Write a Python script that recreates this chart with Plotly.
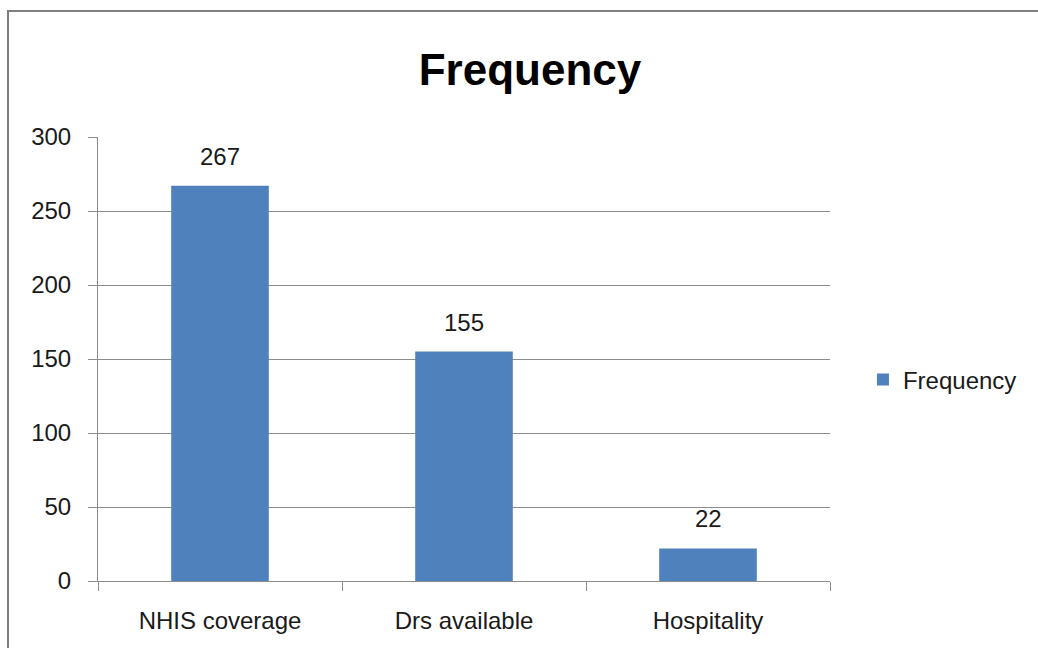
import plotly.graph_objects as go

categories = ["NHIS coverage", "Drs available", "Hospitality"]
values = [267, 155, 22]
series_name = "Frequency"
y_ticks = [0, 50, 100, 150, 200, 250, 300]

FONT = "Liberation Sans, Arial, sans-serif"
BAR = "#4F81BD"
GRID = "#8C8C8C"
TXT = "#1a1a1a"
FS = 24

fig = go.Figure()
fig.add_trace(go.Bar(
    x=categories, y=values, name=series_name,
    marker=dict(color=BAR, line=dict(width=0)),
    showlegend=True,
))
for c, v in zip(categories, values):
    fig.add_annotation(x=c, y=v, text=str(v), showarrow=False,
                       yanchor="bottom", yshift=14,
                       font=dict(size=FS, color=TXT, family=FONT))

fig.update_layout(
    width=1038, height=648,
    margin=dict(l=98, r=208, t=137, b=67),
    paper_bgcolor="white", plot_bgcolor="white",
    bargap=0.6,
    title=dict(text="<b>Frequency</b>", x=530/1038, xanchor="center", xref="container",
               y=1 - 70/648, yanchor="middle", yref="container",
               font=dict(size=44, color="black", family=FONT)),
    legend=dict(x=1.045, xanchor="left", y=(581 - 380) / 444, yanchor="middle",
                font=dict(size=FS, color=TXT, family=FONT),
                itemwidth=30, bgcolor="rgba(0,0,0,0)"),
    font=dict(family=FONT, color=TXT),
)
fig.update_yaxes(range=[0, 300], tickvals=y_ticks, showgrid=True, gridcolor=GRID, gridwidth=1,
                 showline=True, linecolor=GRID, linewidth=1, ticks="outside", ticklen=9,
                 tickcolor=GRID, tickfont=dict(size=FS, color=TXT, family=FONT),
                 zeroline=False, ticklabelstandoff=12)
fig.update_xaxes(showline=True, linecolor=GRID, linewidth=1, ticks="outside", ticklen=9,
                 tickcolor=GRID, tickson="boundaries", ticklabelstandoff=18,
                 tickfont=dict(size=FS, color=TXT, family=FONT), showgrid=False)

fig.add_shape(type="rect", xref="paper", yref="paper",
              x0=(8 - 98) / 732, x1=(1045 - 98) / 732,
              y0=-(660 - 581) / 444, y1=(581 - 11) / 444,
              line=dict(color="#7F7F7F", width=2), fillcolor="rgba(0,0,0,0)", layer="below")

fig.write_html("out.html")
